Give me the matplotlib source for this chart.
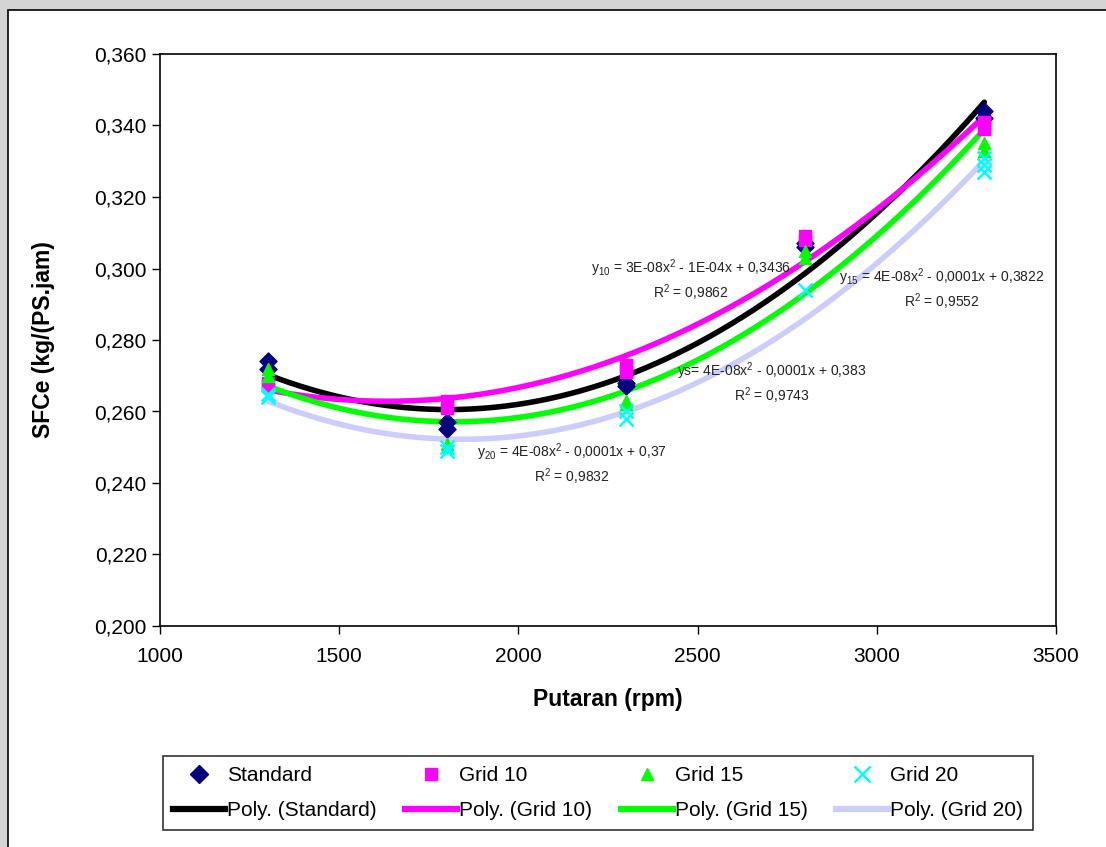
import matplotlib.pyplot as plt
import numpy as np
from matplotlib.patches import Rectangle
from matplotlib.lines import Line2D
from matplotlib.ticker import FuncFormatter

plt.rcParams['font.family'] = ['Liberation Sans', 'DejaVu Sans']
plt.rcParams['mathtext.fontset'] = 'custom'
plt.rcParams['mathtext.rm'] = 'Liberation Sans'

# Putaran mesin (rpm) dan SFCe hasil pengujian, dua kali ulangan tiap putaran
std_x = [1300, 1300, 1800, 1800, 2300, 2300, 2800, 2800, 3300, 3300]
std_y = [0.274, 0.272, 0.257, 0.255, 0.268, 0.267, 0.307, 0.306, 0.344, 0.342]

g10_x = [1300, 1300, 1800, 1800, 2300, 2300, 2800, 2800, 3300, 3300]
g10_y = [0.268, 0.267, 0.263, 0.261, 0.273, 0.271, 0.309, 0.308, 0.341, 0.339]

g15_x = [1300, 1300, 1800, 1800, 2300, 2300, 2800, 2800, 3300, 3300]
g15_y = [0.272, 0.270, 0.251, 0.250, 0.263, 0.262, 0.305, 0.303, 0.335, 0.333]

g20_x = [1300, 1300, 1800, 1800, 2300, 2300, 2800, 3300, 3300, 3300]
g20_y = [0.265, 0.264, 0.250, 0.249, 0.260, 0.258, 0.294, 0.331, 0.329, 0.327]

series = [
    ('Standard', std_x, std_y, 'D', '#000080', 'black'),
    ('Grid 10', g10_x, g10_y, 's', '#FF00FF', '#FF00FF'),
    ('Grid 15', g15_x, g15_y, '^', '#00FF00', '#00FF00'),
    ('Grid 20', g20_x, g20_y, 'x', '#00FFFF', '#CCCCFF'),
]

# persamaan trendline: (teks baris 1, teks baris 2, posisi x, posisi y)
equations = [
    (r'$\mathregular{y_{10}}$ = 3E-08x$\mathregular{^2}$ - 1E-04x + 0,3436', r'R$\mathregular{^2}$ = 0,9862', 2482, 0.3001),
    (r'$\mathregular{y_{15}}$ = 4E-08x$\mathregular{^2}$ - 0,0001x + 0,3822', r'R$\mathregular{^2}$ = 0,9552', 3180, 0.2976),
    (r'ys= 4E-08x$\mathregular{^2}$ - 0,0001x + 0,383', r'R$\mathregular{^2}$ = 0,9743', 2708, 0.2713),
    (r'$\mathregular{y_{20}}$ = 4E-08x$\mathregular{^2}$ - 0,0001x + 0,37', r'R$\mathregular{^2}$ = 0,9832', 2148, 0.2487),
]

W, H = 1106, 847
fig = plt.figure(figsize=(W / 100, H / 100), dpi=100, facecolor='#d4d4d4')
# area chart putih dengan bingkai
fig.patches.append(Rectangle((8 / W, -0.01), 1.02, (H - 10) / H + 0.01,
                             transform=fig.transFigure, facecolor='white',
                             edgecolor='black', linewidth=1.2, zorder=-5))

ax = fig.add_axes([160 / W, (H - 626) / H, 896 / W, 572 / H])
ax.set_facecolor('white')

handles = []
for name, xs, ys, mk, mcol, lcol in series:
    xs = np.array(xs, dtype=float)
    ys = np.array(ys, dtype=float)
    if mk == 'x':
        ax.scatter(xs, ys, marker='x', s=100, color=mcol, linewidths=1.8, zorder=3)
    else:
        ax.scatter(xs, ys, marker=mk, s=75, color=mcol, edgecolors=mcol, zorder=3)
    coef = np.polyfit(xs, ys, 2)
    xx = np.linspace(1300, 3300, 200)
    ax.plot(xx, np.polyval(coef, xx), color=lcol, linewidth=4, zorder=2,
            solid_capstyle='round')
    handles.append(Line2D([], [], linestyle='none', marker=mk, color=mcol,
                          markersize=9 if mk != 'x' else 11,
                          markeredgewidth=1.8 if mk == 'x' else 1))
    handles.append(Line2D([], [], color=lcol, linewidth=4.5))

ax.set_xlim(1000, 3500)
ax.set_ylim(0.200, 0.360)
ax.set_xticks(np.arange(1000, 3501, 500))
ax.set_yticks(np.arange(0.200, 0.3601, 0.020))
ax.yaxis.set_major_formatter(FuncFormatter(lambda v, p: f'{v:.3f}'.replace('.', ',')))
ax.tick_params(direction='out', length=6, width=1, labelsize=15, color='black')
ax.tick_params(axis='x', pad=9)
for s in ax.spines.values():
    s.set_linewidth(1.2)
    s.set_color('black')

ax.set_xlabel('Putaran (rpm)', fontsize=16.5, fontweight='bold', labelpad=16)
ax.set_ylabel('SFCe (kg/(PS.jam)', fontsize=16.5, fontweight='bold', labelpad=28)

eq_kw = dict(fontsize=10, ha='center', va='center', color='#222222')
for line1, line2, ex, ey in equations:
    ax.text(ex, ey, line1, **eq_kw)
    ax.text(ex, ey - 0.0070, line2, **eq_kw)

labels = []
for name, *_ in series:
    labels += [name, f'Poly. ({name})']
leg = fig.legend(handles, labels, ncol=4, loc='center',
                 bbox_to_anchor=(598 / W, (H - 793) / H), fontsize=15,
                 frameon=True, fancybox=False, edgecolor='black',
                 handlelength=2.5, handletextpad=0.1, columnspacing=1.35,
                 borderpad=0.5, labelspacing=0.75, borderaxespad=0)
leg.get_frame().set_linewidth(1.2)

fig.savefig('out.png', dpi=100, facecolor=fig.get_facecolor())
